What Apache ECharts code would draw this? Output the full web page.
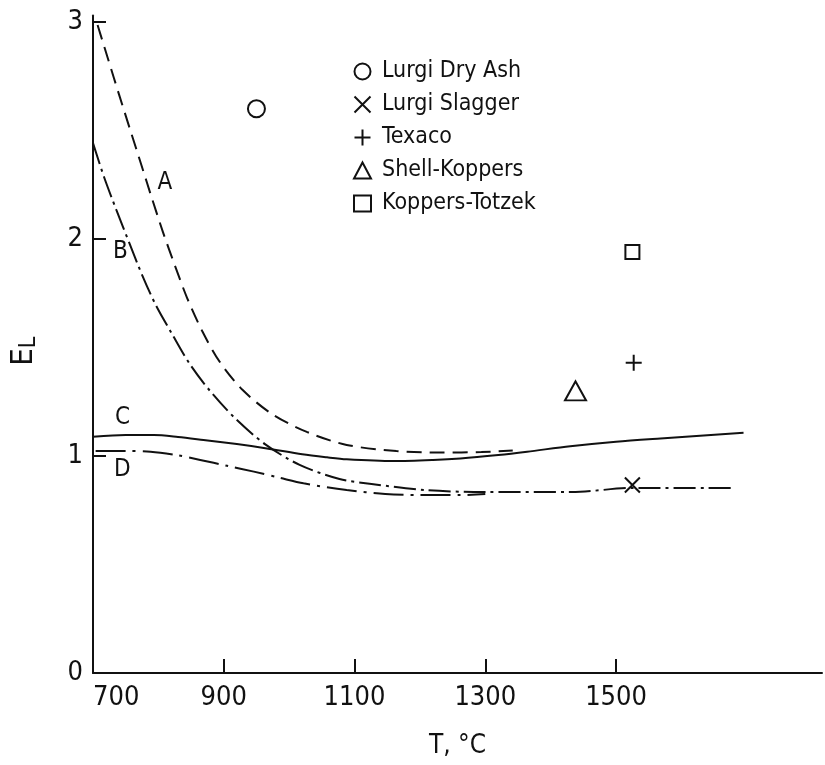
<!DOCTYPE html>
<html>
<head>
<meta charset="utf-8">
<title>E_L vs temperature</title>
<script src="https://cdn.jsdelivr.net/npm/echarts@6/dist/echarts.min.js"></script>
<style>
  html, body { margin: 0; padding: 0; background: #fff; }
  #chart { width: 825px; height: 765px; }
</style>
</head>
<body>
<div id="chart"></div>
<script>
// Curve A (long dashes)
const curveA_T = [707, 723.5, 740, 757, 774, 790.5, 807, 825, 844, 867, 894, 929, 973.5, 1027, 1088, 1164, 1233, 1294, 1342];
const curveA_E = [2.986, 2.825, 2.664, 2.502, 2.341, 2.184, 2.032, 1.88, 1.728, 1.576, 1.433, 1.304, 1.194, 1.111, 1.051, 1.023, 1.016, 1.018, 1.025];

// Curve B (dash-dot)
const curveB_T = [700, 716.6, 735.7, 755.5, 775, 796, 821, 848, 879, 917, 963, 1016, 1077, 1126, 1208, 1297, 1432, 1527, 1678];
const curveB_E = [2.442, 2.288, 2.134, 1.982, 1.835, 1.696, 1.562, 1.424, 1.30, 1.175, 1.055, 0.959, 0.894, 0.871, 0.843, 0.834, 0.834, 0.853, 0.853];

// Curve C (solid)
const curveC_T = [700, 750, 793, 830, 869, 920, 966, 1020, 1058, 1088, 1160, 1220, 1262, 1320, 1364, 1430, 1500, 1568, 1695];
const curveC_E = [1.089, 1.097, 1.097, 1.088, 1.074, 1.055, 1.035, 1.008, 0.994, 0.985, 0.977, 0.982, 0.989, 1.005, 1.02, 1.045, 1.066, 1.081, 1.107];

// Curve D (long dash-dot)
const curveD_T = [704, 750, 788, 830, 864, 905, 946, 985, 1022, 1088, 1147, 1200, 1262, 1300];
const curveD_E = [1.023, 1.023, 1.02, 1.003, 0.982, 0.955, 0.928, 0.90, 0.874, 0.843, 0.825, 0.82, 0.82, 0.825];

// Individual gasifiers
const gasifierNames = ['Lurgi Dry Ash', 'Lurgi Slagger', 'Texaco', 'Shell-Koppers', 'Koppers-Totzek'];
const gasifierT = [950, 1525, 1527, 1438, 1525];
const gasifierE = [2.6, 0.866, 1.43, 1.30, 1.94];

// Axis ticks
const xTicks = [700, 900, 1100, 1300, 1500];
const yTicks = [0, 1, 2, 3];

// Curve letters and where they sit (T, E_L)
const curveLetters = ['A', 'B', 'C', 'D'];
const letterT = [810, 742, 745, 745];
const letterE = [2.26, 1.94, 1.175, 0.935];

const INK = '#111';
const FONT = "'Liberation Sans Narrow', 'DejaVu Sans Condensed', 'Liberation Sans', sans-serif";

function zip(ts, es) { return ts.map((t, i) => [t, es[i]]); }

const lineDefs = [
  { name: 'A', t: curveA_T, e: curveA_E, type: [15, 8] },
  { name: 'B', t: curveB_T, e: curveB_E, type: [22, 5, 3, 5] },
  { name: 'C', t: curveC_T, e: curveC_E, type: 'solid' },
  { name: 'D', t: curveD_T, e: curveD_E, type: [30, 7, 3, 7] }
];

const markerShapes = [
  { symbol: 'circle', size: 17 },
  { symbol: 'path://M0,0L10,10M10,0L0,10', size: 15 },
  { symbol: 'path://M5,0V10M0,5H10', size: 16 },
  { symbol: 'triangle', size: [21, 19] },
  { symbol: 'rect', size: 14 }
];

const series = [];
lineDefs.forEach((d, i) => {
  series.push({
    type: 'line',
    name: 'curve' + d.name,
    data: zip(d.t, d.e),
    smooth: 0.3,
    symbol: 'none',
    silent: true,
    lineStyle: { color: INK, width: 2, type: d.type },
    markPoint: {
      symbol: 'circle',
      symbolSize: 0,
      silent: true,
      label: {
        show: true,
        position: 'inside',
        formatter: curveLetters[i],
        color: INK,
        fontFamily: FONT,
        fontSize: 24
      },
      data: [{ coord: [letterT[i], letterE[i]] }]
    }
  });
});

gasifierNames.forEach((name, i) => {
  series.push({
    type: 'scatter',
    name: name,
    data: [[gasifierT[i], gasifierE[i]]],
    symbol: markerShapes[i].symbol,
    symbolSize: markerShapes[i].size,
    itemStyle: { color: 'rgba(0,0,0,0)', borderColor: INK, borderWidth: 2, opacity: 1 }
  });
});

const chart = echarts.init(document.getElementById('chart'), null, { renderer: 'canvas' });
chart.setOption({
  animation: false,
  backgroundColor: '#fff',
  grid: { left: 91, right: 3, top: 15.5, bottom: 92, containLabel: false },
  legend: {
    data: gasifierNames,
    orient: 'vertical',
    left: 353,
    top: 60,
    padding: 0,
    itemWidth: 17,
    itemHeight: 16,
    itemGap: 10,
    selectedMode: false,
    itemStyle: { color: 'rgba(0,0,0,0)', borderColor: INK, borderWidth: 2 },
    textStyle: { color: INK, fontFamily: FONT, fontSize: 23, padding: [0, 0, 0, 6] }
  },
  xAxis: {
    type: 'value',
    min: 700,
    max: 1815,
    name: 'T, °C',
    nameLocation: 'middle',
    nameGap: 60,
    nameTextStyle: { color: INK, fontFamily: FONT, fontSize: 26 },
    splitLine: { show: false },
    axisLine: { show: true, onZero: false, lineStyle: { color: INK, width: 2 } },
    axisTick: { show: true, inside: true, length: 14, customValues: xTicks, lineStyle: { color: INK, width: 2 } },
    axisLabel: {
      customValues: xTicks,
      formatter: (v) => String(v),
      color: INK, fontFamily: FONT, fontSize: 27, margin: 11,
      alignMinLabel: 'left'
    }
  },
  yAxis: {
    type: 'value',
    min: 0,
    max: 3.03,
    name: '{e|E}{l|L}',
    nameLocation: 'middle',
    nameRotate: 90,
    nameGap: 52,
    nameTextStyle: {
      color: INK,
      fontFamily: FONT,
      padding: [0, 14, 0, 0],
      rich: {
        e: { fontSize: 31, fontFamily: FONT, color: INK },
        l: { fontSize: 23, fontFamily: FONT, color: INK, padding: [12, 0, 0, 0] }
      }
    },
    splitLine: { show: false },
    axisLine: { show: true, onZero: false, lineStyle: { color: INK, width: 2 } },
    axisTick: { show: true, inside: true, length: 13, customValues: yTicks, lineStyle: { color: INK, width: 2 } },
    axisLabel: {
      customValues: yTicks,
      formatter: (v) => String(v),
      color: INK, fontFamily: FONT, fontSize: 27, margin: 10
    }
  },
  series: series
});
</script>
</body>
</html>
